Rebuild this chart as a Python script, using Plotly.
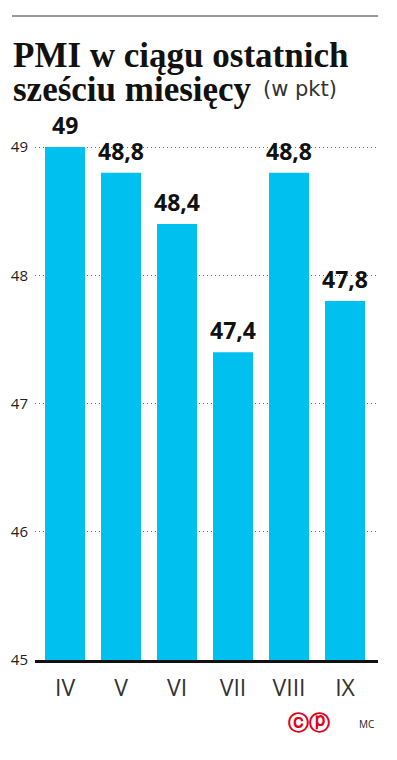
import plotly.graph_objects as go

months = ["IV", "V", "VI", "VII", "VIII", "IX"]
pmi = [49.0, 48.8, 48.4, 47.4, 48.8, 47.8]
y_ticks = [45, 46, 47, 48, 49]
title_lines = ["PMI w ciągu ostatnich", "sześciu miesięcy"]
title_unit = "(w pkt)"
credit_logo = "ⓒⓟ"
credit_author = "MC"

OFF = 8  # page body margin
W, H = 397, 760
BAR = "#00c0f0"

# plot area in reference page pixels
PL, PR, PT, PB = 35, 378, 134, 660

def px(x):
    return (x - PL) / (PR - PL)

def py(y):
    return (PB - y) / (PB - PT)

def fmt(v):
    s = ("%.1f" % v).rstrip("0").rstrip(".")
    return s.replace(".", ",")

fig = go.Figure()
fig.add_trace(go.Bar(
    x=months, y=pmi, marker=dict(color=BAR, line=dict(width=0)),
    width=0.714, hoverinfo="skip", showlegend=False,
))

annotations = []
for m, v in zip(months, pmi):
    annotations.append(dict(
        x=m, y=v, xref="x", yref="y", text=fmt(v), showarrow=False,
        yanchor="bottom", yshift=4,
        font=dict(family="Open Sans", size=23, color="#111111", weight="bold"),
    ))

for line, yc in zip(title_lines, [56, 89]):
    annotations.append(dict(
        x=px(11), y=py(yc), xref="paper", yref="paper", xanchor="left", yanchor="middle",
        text=line, showarrow=False,
        font=dict(family="Liberation Serif", size=35, color="#111111", weight="bold")))

annotations += [
    dict(x=px(261), y=py(89), xref="paper", yref="paper", xanchor="left", yanchor="middle",
         text=title_unit, showarrow=False,
         font=dict(family="DejaVu Sans", size=21, color="#333333")),
    dict(x=px(309), y=py(723), xref="paper", yref="paper", xanchor="center", yanchor="middle",
         text=credit_logo, showarrow=False,
         font=dict(family="DejaVu Sans", size=21, color="#e2001a", weight="bold")),
    dict(x=px(366), y=py(724), xref="paper", yref="paper", xanchor="center", yanchor="middle",
         text=credit_author, showarrow=False,
         font=dict(family="Open Sans", size=10, color="#222222")),
]

fig.update_layout(
    width=W, height=H, autosize=False,
    margin=dict(l=PL - OFF, r=W - (PR - OFF), t=PT - OFF, b=H - (PB - OFF), pad=0, autoexpand=False),
    paper_bgcolor="white", plot_bgcolor="white",
    bargap=0.286,
    annotations=annotations,
    shapes=[dict(type="line", xref="paper", yref="paper",
                 x0=px(12), x1=px(378), y0=py(16), y1=py(16),
                 line=dict(color="#333333", width=1))],
    xaxis=dict(
        type="category", range=[-0.536, 5.589], showgrid=False, automargin=False,
        showline=True, linecolor="#111111", linewidth=3,
        ticks="", tickfont=dict(family="Open Sans", size=23, color="#333333"),
        ticklabelstandoff=5, fixedrange=True,
    ),
    yaxis=dict(
        range=[45, 49 + 13 / 128], tickvals=y_ticks, ticktext=[str(t) for t in y_ticks],
        showgrid=True, gridcolor="#666666", griddash="1px,3px", gridwidth=1, automargin=False,
        zeroline=False, showline=False, ticks="",
        tickfont=dict(family="Open Sans", size=15, color="#222222"),
        ticklabelstandoff=6, fixedrange=True,
    ),
)

fig.write_html("out.html")
